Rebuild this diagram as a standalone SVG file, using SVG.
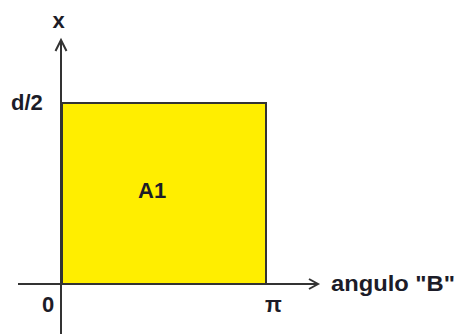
<svg xmlns="http://www.w3.org/2000/svg" width="457" height="334" viewBox="0 0 457 334">
<style>
.t{font-family:"Liberation Sans",Arial,sans-serif;font-weight:bold;font-size:22px;fill:#1c1c28}
.ax{stroke:#333;stroke-width:2;fill:none}
</style>
<rect width="457" height="334" fill="#fff"/>
<g id="area">
<rect x="62" y="103" width="204" height="181" fill="#ffee00" stroke="#333" stroke-width="2"/>
<text class="t" x="138" y="198">A1</text>
</g>
<g id="connectors">
<line class="ax" x1="61" y1="334" x2="61" y2="41"/>
<polyline class="ax" points="55.5,51 61,40 66.5,51"/>
<line class="ax" x1="18" y1="284" x2="318" y2="284"/>
<polyline class="ax" points="309,279 318,284 309,289"/>
</g>
<g id="labels">
<text class="t" x="58.5" y="28" text-anchor="middle">x</text>
<text class="t" x="11" y="110">d/2</text>
<text class="t" x="42" y="312">0</text>
<text class="t" x="265" y="312">π</text>
<text class="t" x="331" y="291" textLength="124" lengthAdjust="spacingAndGlyphs">angulo "B"</text>
</g>
</svg>
